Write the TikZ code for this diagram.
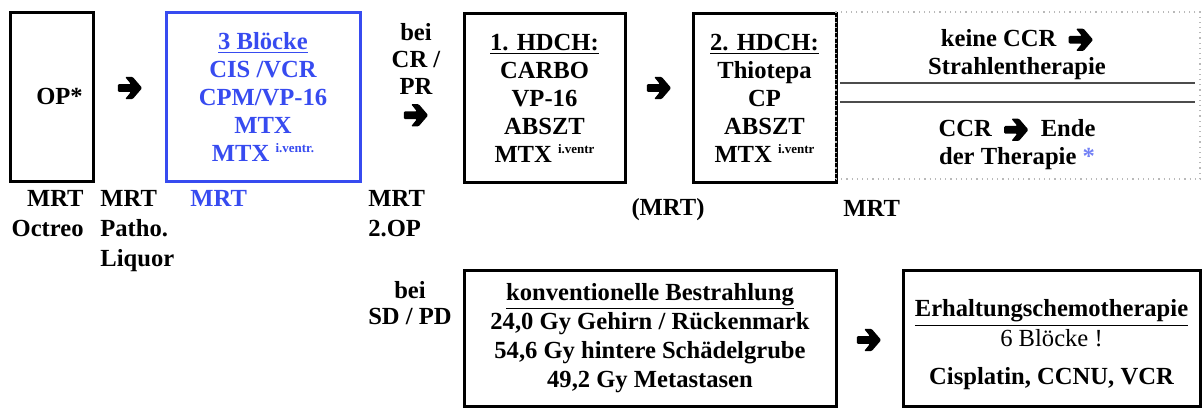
\documentclass[tikz,border=0pt]{standalone}
\usepackage{fontspec}
\setmainfont{Liberation Serif}
\usepackage{tikz}
\usetikzlibrary{positioning,calc}

\definecolor{blockblue}{RGB}{55,75,240}
\newcommand{\rarr}{\tikz[baseline=-3.2pt, x=1pt, y=1pt]
    \fill[rounded corners=0.6pt] (0,1.9) -- (6.6,1.9) -- (3.6,5.6) -- (7.4,5.6) -- (12.2,0)
        -- (7.4,-5.6) -- (3.6,-5.6) -- (6.6,-1.9) -- (0,-1.9) -- cycle;}
\newcommand{\ivtr}[1]{\raisebox{0.8ex}{\fontsize{6.5}{6.5}\selectfont #1}}
\newcommand{\tightlines}{\lineskiplimit=-6pt\relax}

\begin{document}
\begin{tikzpicture}[
    x=0.5pt, y=-0.5pt,
    every node/.style={font=\fontsize{12.3}{14}\selectfont\bfseries, inner sep=0pt},
    box/.style={rectangle, draw, line width=1.5pt, minimum height=84.5pt, align=center},
    note/.style={align=left, font=\fontsize{12.3}{15}\selectfont\bfseries}
]
    \useasboundingbox (0,0) rectangle (1203,408);

    % first row
    \node[box, minimum width=41.5pt] (op) at (51.5,96.5) {\hspace*{8pt}OP*};
    \node (a1) at (130,88) {\rarr};
    \node[box, draw=blockblue, text=blockblue, minimum width=97pt] (blocks) at (263,96.5)
        {\underline{3 Blöcke}\\CIS /VCR\\CPM/VP-16\\MTX\\MTX \ivtr{i.ventr.}};
    \node[align=center, font=\tightlines\fontsize{12.3}{13.5}\selectfont\bfseries] (crpr) at (416,75) {bei\\CR /\\PR\\\rarr};
    \node[box, minimum width=80.5pt] (hd1) at (544.5,98) {\underline{1. HDCH:}\\CARBO\\VP-16\\ABSZT\\MTX \ivtr{i.ventr}};
    \node (a2) at (659,88) {\rarr};
    \node[box, minimum width=71.5pt] (hd2) at (764.5,98) {\underline{2. HDCH:}\\Thiotepa\\CP\\ABSZT\\MTX \ivtr{i.ventr}};

    % outcome after second HDCH
    \node[rectangle, draw=gray!55, dotted, line width=0.6pt, minimum width=182pt, minimum height=83.5pt] (out) at (1018,95.5) {};
    \node[align=center] (noccr) at (1017,54) {keine CCR \ \rarr\\Strahlentherapie};
    \node[align=center] (ccr) at (1017,144) {CCR \ \rarr\ \ Ende\\der Therapie \textcolor{blockblue!70}{*}};
    \coordinate (s1) at (840,83);  \coordinate (e1) at (1195,83);
    \coordinate (s2) at (840,102); \coordinate (e2) at (1195,102);
    \draw[gray!60!black, line width=1pt] (s1) -- (e1);
    \draw[gray!60!black, line width=1pt] (s2) -- (e2);

    % examinations
    \node[note, align=right, anchor=north east] (m1) at (84,190) {MRT\\Octreo};
    \node[note, anchor=north west] (m2) at (100,190) {MRT\\Patho.\\Liquor};
    \node[note, anchor=north west, text=blockblue] (m3) at (190,190) {MRT};
    \node[note, anchor=north west] (m4) at (368,190) {MRT\\2.OP};
    \node[anchor=base] (m5) at (668,215) {(MRT)};
    \node[note, anchor=north west] (m6) at (843,200) {MRT};

    % second row
    \node[align=center, font=\fontsize{12.3}{13}\selectfont\bfseries] (sdpd) at (410,303) {bei\\SD / PD};
    \node[box, minimum width=186pt, minimum height=68pt, font=\fontsize{12.3}{14.5}\selectfont\bfseries] (rt) at (650,338)
        {\underline{konventionelle Bestrahlung}\\24,0 Gy Gehirn / Rückenmark\\54,6 Gy hintere Schädelgrube\\49,2 Gy Metastasen};
    \node (a3) at (869,340) {\rarr};
    \node[box, minimum width=148.5pt, minimum height=68pt] (ehc) at (1051.5,338)
        {\rule{0pt}{15.4pt}\underline{Erhaltungschemotherapie}\\[1pt]{\mdseries 6 Blöcke !}\\[5pt]Cisplatin, CCNU, VCR};
\end{tikzpicture}
\end{document}
